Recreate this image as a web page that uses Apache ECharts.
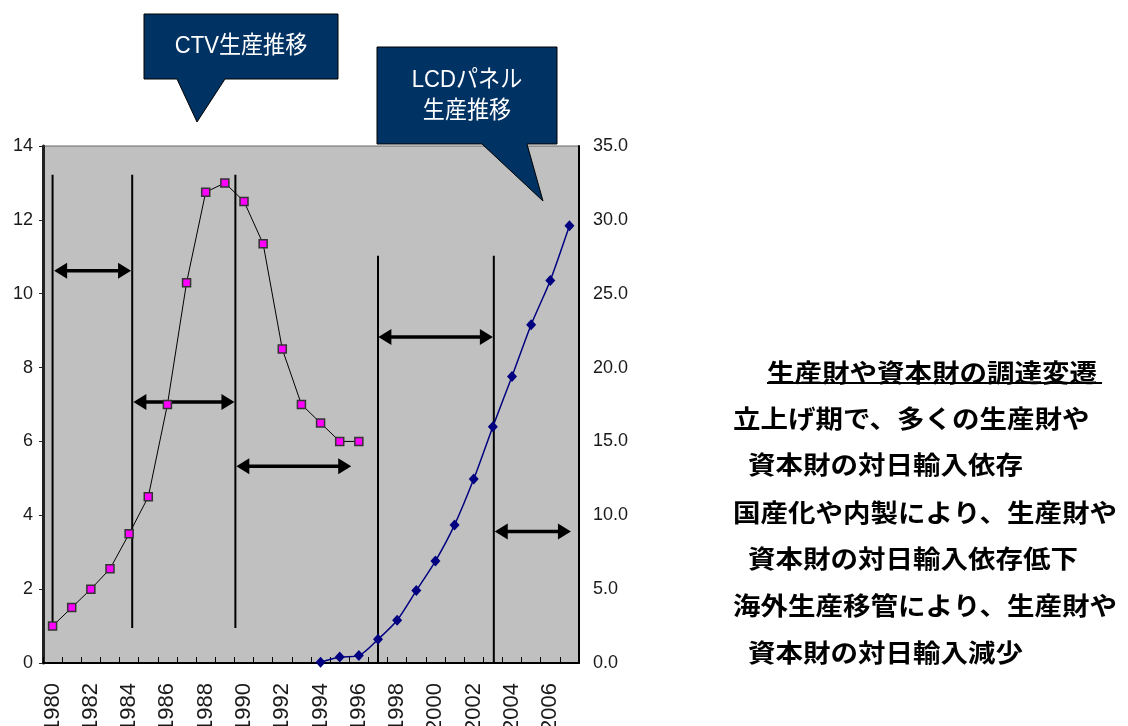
<!DOCTYPE html>
<html>
<head>
<meta charset="utf-8">
<script src="https://cdn.jsdelivr.net/npm/echarts@6/dist/echarts.min.js"></script>
<style>
  html, body { margin: 0; padding: 0; background: #fff; }
  #chart { width: 1128px; height: 726px; }
</style>
</head>
<body>
<div id="chart"></div>
<script>
// Years on the category axis
const years = ['1980','1981','1982','1983','1984','1985','1986','1987','1988','1989',
               '1990','1991','1992','1993','1994','1995','1996','1997','1998','1999',
               '2000','2001','2002','2003','2004','2005','2006','2007'];

// CTV production (left axis)
const ctvProduction = [1.0, 1.5, 2.0, 2.55, 3.5, 4.5, 7.0, 10.3, 12.75, 13.0,
                       12.5, 11.35, 8.5, 7.0, 6.5, 6.0, 6.0,
                       null, null, null, null, null, null, null, null, null, null, null];

// LCD panel production (right axis)
const lcdProduction = [null, null, null, null, null, null, null, null, null, null,
                       null, null, null, null,
                       0.05, 0.4, 0.5, 1.6, 2.9, 4.9, 6.9, 9.35, 12.45, 16.0, 19.4, 22.9, 25.9, 29.6];

// Left / right axis tick values
const leftTicks = [0, 2, 4, 6, 8, 10, 12, 14];
const rightTicks = [0, 5, 10, 15, 20, 25, 30, 35];

// Phase boundaries: [year position, bottom value, top value] on the left scale
const phaseLines = [
  [1980.0, 0.95, 13.22],
  [1984.16, 0.95, 13.22],
  [1989.55, 0.95, 13.22],
  [1997.0, 0.0, 11.03],
  [2003.05, 0.0, 11.03]
];

// Phase spans: [start year, left-scale level, end year]
const phaseArrows = [
  [1980.08, 10.62, 1984.1],
  [1984.22, 7.07, 1989.5],
  [1989.6, 5.33, 1995.6],
  [1997.02, 8.83, 2003.0],
  [2003.1, 3.56, 2007.08]
];

// Notes on the right
const noteTitle = '生産財や資本財の調達変遷';
const noteLines = [
  '立上げ期で、多くの生産財や',
  ' 資本財の対日輸入依存',
  '国産化や内製により、生産財や',
  ' 資本財の対日輸入依存低下',
  '海外生産移管により、生産財や',
  ' 資本財の対日輸入減少'
];

const SANS = '"Liberation Sans", "Noto Sans CJK JP", sans-serif';
const CJK = '"Noto Sans CJK JP", sans-serif';
const NAVY = '#003263';

const chart = echarts.init(document.getElementById('chart'), null, { renderer: 'canvas' });

function renderPhaseLine(params, api) {
  const top = api.coord([api.value(0), api.value(2)]);
  const bot = api.coord([api.value(0), api.value(1)]);
  return {
    type: 'line',
    shape: { x1: top[0], y1: top[1], x2: bot[0], y2: bot[1] },
    style: { stroke: '#000', lineWidth: 2 }
  };
}

function renderPhaseArrow(params, api) {
  const a = api.coord([api.value(0), api.value(1)]);
  const b = api.coord([api.value(2), api.value(1)]);
  const len = 13, half = 8, y = a[1];
  return {
    type: 'group',
    children: [
      {
        type: 'line',
        shape: { x1: a[0] + len - 1, y1: y, x2: b[0] - len + 1, y2: y },
        style: { stroke: '#000', lineWidth: 3.5 }
      },
      {
        type: 'polygon',
        shape: { points: [[a[0], y], [a[0] + len, y - half], [a[0] + len, y + half]] },
        style: { fill: '#000' }
      },
      {
        type: 'polygon',
        shape: { points: [[b[0], y], [b[0] - len, y - half], [b[0] - len, y + half]] },
        style: { fill: '#000' }
      }
    ]
  };
}

const noteGraphics = [
  {
    type: 'text', x: 767, y: 372, scaleX: 1.1,
    style: { text: noteTitle, font: 'bold 25px ' + CJK, fill: '#000', verticalAlign: 'middle' }
  },
  {
    type: 'line',
    shape: { x1: 767, y1: 383, x2: 1102, y2: 383 },
    style: { stroke: '#000', lineWidth: 2 }
  }
];
const noteCenters = [418, 464, 512, 558, 605, 652];
noteLines.forEach((t, i) => {
  const indent = t.startsWith(' ');
  noteGraphics.push({
    type: 'text', x: indent ? 748 : 733, y: noteCenters[i], scaleX: 1.1,
    style: { text: t.trim(), font: 'bold 25px ' + CJK, fill: '#000', verticalAlign: 'middle' }
  });
});

const option = {
  animation: false,
  backgroundColor: '#fff',
  grid: {
    left: 43, right: 549, top: 146, bottom: 63,
    containLabel: false,
    outerBoundsMode: 'none',
    show: true, backgroundColor: '#C0C0C0', borderColor: '#666', borderWidth: 1
  },
  xAxis: [
    {
      type: 'category',
      data: years,
      boundaryGap: true,
      axisLine: { lineStyle: { color: '#000', width: 2 } },
      axisTick: { show: true, inside: true, length: 6, interval: 0, lineStyle: { color: '#000', width: 1 } },
      axisLabel: {
        interval: 1, rotate: 90, margin: 20,
        fontFamily: '"Liberation Sans", sans-serif', fontSize: 22, color: '#1a1a1a'
      },
      splitLine: { show: false }
    },
    {
      type: 'value',
      min: 1979.5, max: 2007.5,
      show: false
    }
  ],
  yAxis: [
    {
      type: 'value',
      min: leftTicks[0], max: leftTicks[leftTicks.length - 1], interval: 2,
      position: 'left',
      axisLine: { show: true, lineStyle: { color: '#222', width: 3 } },
      axisTick: { show: true, length: 4, lineStyle: { color: '#222' } },
      axisLabel: { margin: 10, fontFamily: SANS, fontSize: 18, color: '#1a1a1a' },
      splitLine: { show: false }
    },
    {
      type: 'value',
      min: rightTicks[0], max: rightTicks[rightTicks.length - 1], interval: 5,
      position: 'right',
      axisLine: { show: true, lineStyle: { color: '#000', width: 2 } },
      axisTick: { show: false },
      axisLabel: {
        margin: 14, fontFamily: SANS, fontSize: 18, color: '#1a1a1a',
        formatter: v => v.toFixed(1)
      },
      splitLine: { show: false }
    }
  ],
  series: [
    {
      type: 'custom',
      xAxisIndex: 1, yAxisIndex: 0,
      data: phaseLines,
      renderItem: renderPhaseLine,
      z: 1
    },
    {
      type: 'custom',
      xAxisIndex: 1, yAxisIndex: 0,
      data: phaseArrows,
      renderItem: renderPhaseArrow,
      z: 1
    },
    {
      name: 'CTV',
      type: 'line',
      xAxisIndex: 0, yAxisIndex: 0,
      data: ctvProduction,
      symbol: 'rect', symbolSize: 8,
      lineStyle: { color: '#000', width: 1 },
      itemStyle: { color: '#FF00FF', borderColor: '#333', borderWidth: 1.5 },
      z: 3
    },
    {
      name: 'LCD',
      type: 'line',
      xAxisIndex: 0, yAxisIndex: 1,
      data: lcdProduction,
      smooth: 0.25,
      symbol: 'diamond', symbolSize: [10, 11],
      lineStyle: { color: '#000080', width: 1.5 },
      itemStyle: { color: '#000080', borderWidth: 0 },
      z: 3
    }
  ],
  graphic: [
    // CTV callout
    {
      type: 'polygon',
      shape: { points: [[144, 14], [338, 14], [338, 79], [225, 79], [197, 122], [177, 79], [144, 79]] },
      style: { fill: NAVY, stroke: '#000', lineWidth: 1 },
      z: 10
    },
    {
      type: 'text', x: 241, y: 46, scaleX: 0.92,
      style: { text: 'CTV生産推移', font: '24px ' + SANS, fill: '#fff', align: 'center', verticalAlign: 'middle' },
      z: 11
    },
    // LCD callout
    {
      type: 'polygon',
      shape: { points: [[377, 47], [557, 47], [557, 144], [527, 144], [543, 201], [482, 144], [377, 144]] },
      style: { fill: NAVY, stroke: '#000', lineWidth: 1 },
      z: 10
    },
    {
      type: 'text', x: 467, y: 80, scaleX: 0.92,
      style: { text: 'LCDパネル', font: '24px ' + SANS, fill: '#fff', align: 'center', verticalAlign: 'middle' },
      z: 11
    },
    {
      type: 'text', x: 467, y: 111, scaleX: 0.92,
      style: { text: '生産推移', font: '24px ' + SANS, fill: '#fff', align: 'center', verticalAlign: 'middle' },
      z: 11
    }
  ].concat(noteGraphics)
};

chart.setOption(option);
</script>
</body>
</html>
